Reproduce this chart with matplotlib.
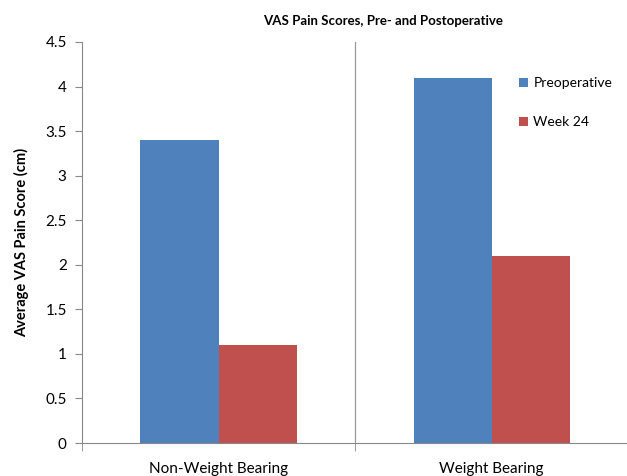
import matplotlib.pyplot as plt
import numpy as np

categories = ["Non-Weight Bearing", "Weight Bearing"]
preop = [3.4, 4.1]
week24 = [1.1, 2.1]
series_names = ["Preoperative", "Week 24"]
yticks = [0, 0.5, 1, 1.5, 2, 2.5, 3, 3.5, 4, 4.5]

plt.rcParams['font.family'] = ['Lato', 'DejaVu Sans']

fig = plt.figure(figsize=(6.27, 4.76), dpi=100)
ax = fig.add_axes([0.1308, 0.0693, 0.871, 0.8425])

x = np.arange(len(categories))
w = 0.286
ax.bar(x - w / 2, preop, w, color='#4F81BD', label=series_names[0])
ax.bar(x + w / 2, week24, w, color='#C0504D', label=series_names[1])

ax.set_xlim(-0.5, 1.5)
ax.set_ylim(0, 4.5)
ax.set_yticks(yticks)
ax.set_yticklabels([f"{t:g}" for t in yticks], fontsize=11)
ax.set_xticks(x)
ax.set_xticklabels(categories, fontsize=11)
ax.tick_params(axis='x', which='major', length=0, pad=14)
ax.set_xticks([-0.5, 0.5, 1.5], minor=True)
ax.tick_params(axis='x', which='minor', length=6, color='#888888')
ax.tick_params(axis='y', length=5, color='#888888', pad=6)

# divider between the two categories
ax.axvline(0.5, color='#999999', lw=0.9)

for s in ['top', 'right']:
    ax.spines[s].set_visible(False)
for s in ['left', 'bottom']:
    ax.spines[s].set_color('#888888')

ax.set_ylabel("Average VAS Pain Score (cm)", fontsize=10.5, fontweight='bold', labelpad=12)
fig.text(0.611, 0.956, "VAS Pain Scores, Pre- and Postoperative", ha='center', va='center',
         fontsize=9.5, fontweight='bold')

ax.legend(loc='upper left', bbox_to_anchor=(0.778, 0.943), frameon=False, fontsize=10,
          handlelength=0.6, handleheight=0.6, handletextpad=0.4, labelspacing=1.95)

fig.savefig("out.png", dpi=100)
